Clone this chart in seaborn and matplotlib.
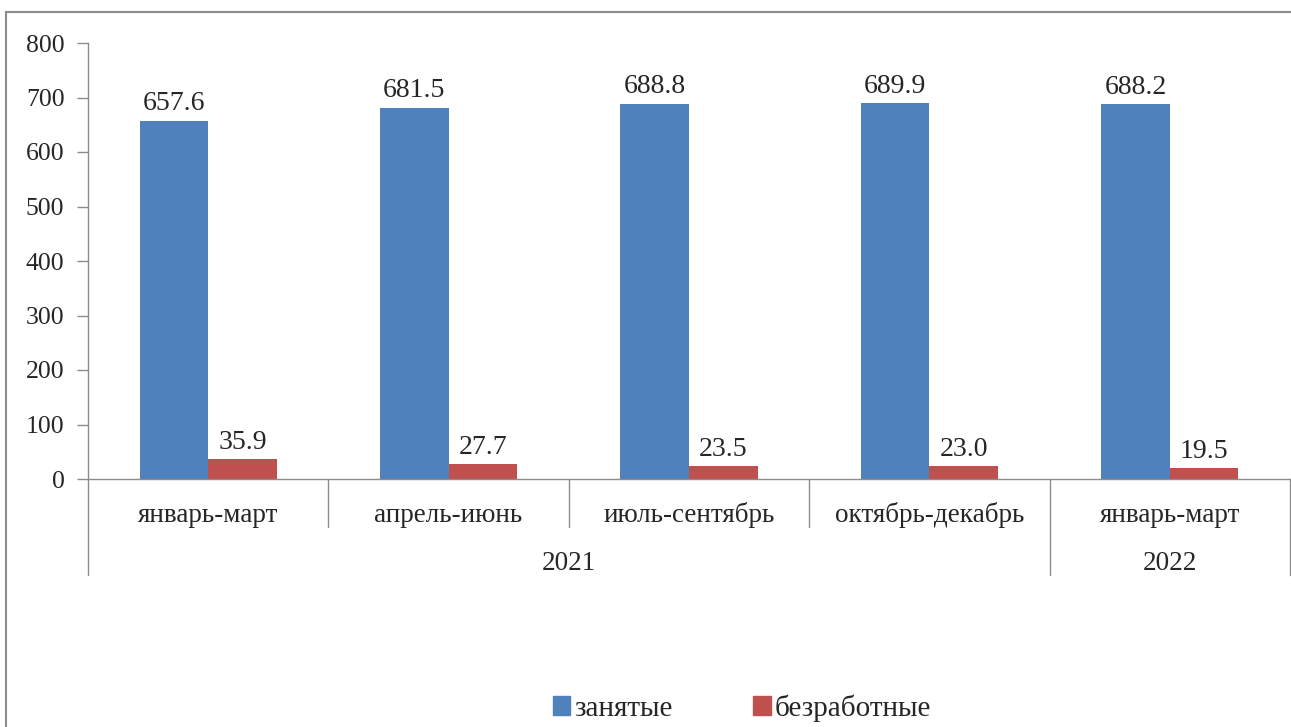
import pandas as pd
import matplotlib
matplotlib.use('Agg')
import matplotlib.pyplot as plt
import seaborn as sns
from matplotlib.lines import Line2D

periods = ['январь-март', 'апрель-июнь', 'июль-сентябрь', 'октябрь-декабрь', 'январь-март']
years = ['2021', '2021', '2021', '2021', '2022']
employed = [657.6, 681.5, 688.8, 689.9, 688.2]
unemployed = [35.9, 27.7, 23.5, 23.0, 19.5]
series_names = ['занятые', 'безработные']
colors = ['#4F81BD', '#C0504D']

sns.set_style('white')
plt.rcParams['font.family'] = ['Liberation Serif', 'DejaVu Serif']

keys = [f'{p} {y}' for p, y in zip(periods, years)]
df = pd.DataFrame({
    'key': keys * 2,
    'value': employed + unemployed,
    'series': [series_names[0]] * len(keys) + [series_names[1]] * len(keys),
})

W, H = 1291, 727
fig = plt.figure(figsize=(W / 100, H / 100), dpi=100)
ax = fig.add_axes([88 / W, 1 - 479 / H, (1290 - 88) / W, (479 - 43) / H])

sns.barplot(data=df, x='key', y='value', hue='series', order=keys,
            hue_order=series_names, palette=colors, width=0.57,
            saturation=1, ax=ax, legend=False, edgecolor='none')

for cont in ax.containers:
    ax.bar_label(cont, fmt='%.1f', fontsize=20, padding=3)

ax.set_ylim(0, 800)
ax.set_xlim(-0.5, len(keys) - 0.5)
ax.set_yticks(range(0, 801, 100))
ax.tick_params(axis='y', labelsize=18.5, length=8, width=1, color='#8c8c8c',
               direction='out', left=True, pad=9)
ax.set_xticks([])
ax.set_xlabel('')
ax.set_ylabel('')
for side in ['top', 'right']:
    ax.spines[side].set_visible(False)
for side in ['left', 'bottom']:
    ax.spines[side].set_color('#8c8c8c')
    ax.spines[side].set_linewidth(1)

# two-level category axis
trans = ax.get_xaxis_transform()
axh = 479 - 43
short = 48 / axh
long_ = 96 / axh
year_edges = [-0.5] + [i + 0.5 for i in range(len(years) - 1) if years[i] != years[i + 1]] + [len(years) - 0.5]
for i in range(len(keys) + 1):
    x = i - 0.5
    depth = long_ if x in year_edges else short
    ax.plot([x, x], [0, -depth], transform=trans, color='#8c8c8c', lw=1, clip_on=False)
for i, p in enumerate(periods):
    ax.text(i, -36 / axh, p, transform=trans, ha='center', va='center', fontsize=19.5)
for y in sorted(set(years)):
    idx = [i for i, v in enumerate(years) if v == y]
    ax.text((idx[0] + idx[-1]) / 2, -84 / axh, y, transform=trans,
            ha='center', va='center', fontsize=19.5)

# outer frame of the chart area
fig.add_artist(Line2D([6 / W, 6 / W], [1 - 12 / H, 0], color='#8c8c8c', lw=1.5,
                      transform=fig.transFigure))
fig.add_artist(Line2D([6 / W, 1], [1 - 12 / H, 1 - 12 / H], color='#8c8c8c', lw=1.5,
                      transform=fig.transFigure))

handles = [plt.Rectangle((0, 0), 1, 1, color=c) for c in colors]
fig.legend(handles, series_names, loc='center', bbox_to_anchor=(742 / W, 1 - 708 / H),
           ncol=2, frameon=False, fontsize=21, handlelength=0.6, handleheight=0.6,
           handletextpad=0.15, columnspacing=2.75)

fig.savefig('out.png', dpi=100)
